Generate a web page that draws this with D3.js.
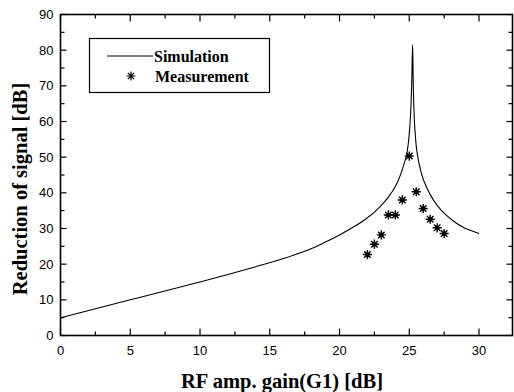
<!DOCTYPE html>
<html>
<head>
<meta charset="utf-8">
<script src="https://cdn.jsdelivr.net/npm/d3@7"></script>
<style>
  html, body { margin: 0; padding: 0; background: #fff; }
  svg { display: block; }
  .tick-label { font-family: Arial, "Liberation Sans", sans-serif; font-size: 13px; fill: #000; }
  .title { font-family: "Times New Roman", "Liberation Serif", serif; font-weight: bold; fill: #000; }
</style>
</head>
<body>
<svg id="chart" width="514" height="392"></svg>
<script>
// simulated curve
var simGain = [0, 5, 8.6, 10, 12, 14, 16, 17, 18, 19, 20, 21, 21.5, 22, 22.5, 23, 23.5, 24, 24.2, 24.4, 24.83, 25.07, 25.17, 25.24,
               25.28, 25.33, 25.4, 25.55, 25.8, 26, 26.5, 27, 27.5, 28, 28.5, 29, 29.5, 30];
var simReduction = [5, 10, 13.6, 15, 17.1, 19.3, 21.6, 22.9, 24.4, 26.2, 28.2, 30.4, 31.6, 33, 34.6, 36.5, 38.8, 41.8, 43.4, 45.4, 51.1, 60.4, 70, 81.5,
                    72, 64, 58, 51.5, 46.5, 43.8, 39.5, 36.5, 34.3, 32.6, 31.2, 30.1, 29.3, 28.6];

// measured points
var measGain = [22, 22.5, 23, 23.5, 24, 24.5, 25, 25.5, 26, 26.5, 27, 27.5];
var measReduction = [22.7, 25.6, 28.2, 33.8, 33.8, 38, 50.3, 40.3, 35.6, 32.6, 30.2, 28.6];

var xTicks = [0, 5, 10, 15, 20, 25, 30];
var yTicks = [0, 10, 20, 30, 40, 50, 60, 70, 80, 90];

var svg = d3.select("#chart");

var plotL = 60.5, plotR = 512.5, plotT = 14.5, plotB = 335.5;

var x = d3.scaleLinear().domain([0, 32.4]).range([plotL, plotR]);
var y = d3.scaleLinear().domain([0, 90]).range([plotB, plotT]);

// minor ticks every half step
var xMinor = d3.range(2.5, 32.4, 5);
var yMinor = d3.range(5, 90, 10);

var axes = svg.append("g").attr("class", "axes");

function inwardTicksX(g, vals, len) {
    vals.forEach(function(v) {
        g.append("line").attr("x1", x(v)).attr("x2", x(v)).attr("y1", plotB).attr("y2", plotB - len)
            .attr("stroke", "#000").attr("stroke-width", 1.2);
        g.append("line").attr("x1", x(v)).attr("x2", x(v)).attr("y1", plotT).attr("y2", plotT + len)
            .attr("stroke", "#000").attr("stroke-width", 1.2);
    });
}
function inwardTicksY(g, vals, len) {
    vals.forEach(function(v) {
        g.append("line").attr("y1", y(v)).attr("y2", y(v)).attr("x1", plotL).attr("x2", plotL + len)
            .attr("stroke", "#000").attr("stroke-width", 1.2);
        g.append("line").attr("y1", y(v)).attr("y2", y(v)).attr("x1", plotR).attr("x2", plotR - len)
            .attr("stroke", "#000").attr("stroke-width", 1.2);
    });
}
inwardTicksX(axes, xTicks, 7);
inwardTicksX(axes, xMinor, 4);
inwardTicksY(axes, yTicks, 6);
inwardTicksY(axes, yMinor, 4);

axes.append("rect")
    .attr("x", plotL).attr("y", plotT)
    .attr("width", plotR - plotL).attr("height", plotB - plotT)
    .attr("fill", "none").attr("stroke", "#000").attr("stroke-width", 1.6);

// tick labels
axes.selectAll("text.xl").data(xTicks).enter().append("text")
    .attr("class", "tick-label xl")
    .attr("x", function(d) { return x(d); })
    .attr("y", plotB + 19)
    .attr("text-anchor", "middle")
    .text(function(d) { return d; });

axes.selectAll("text.yl").data(yTicks).enter().append("text")
    .attr("class", "tick-label yl")
    .attr("x", plotL - 7)
    .attr("y", function(d) { return y(d); })
    .attr("dy", "0.35em")
    .attr("text-anchor", "end")
    .text(function(d) { return d; });

// axis titles
svg.append("text").attr("class", "title")
    .attr("x", 282).attr("y", 388)
    .attr("text-anchor", "middle")
    .style("font-size", "20.5px")
    .text("RF amp. gain(G1) [dB]");

svg.append("text").attr("class", "title")
    .attr("transform", "translate(27,189) rotate(-90)")
    .attr("text-anchor", "middle")
    .style("font-size", "20.5px")
    .text("Reduction of signal [dB]");

// simulation line
var simData = simGain.map(function(g, i) { return { g: g, r: simReduction[i] }; });
var line = d3.line()
    .x(function(d) { return x(d.g); })
    .y(function(d) { return y(d.r); })
    .curve(d3.curveCatmullRom.alpha(0.5));

svg.append("path")
    .datum(simData)
    .attr("d", line)
    .attr("fill", "none")
    .attr("stroke", "#000")
    .attr("stroke-width", 1.1);

// asterisk marker
function starPath(cx, cy, r) {
    var d = "";
    for (var k = 0; k < 4; k++) {
        var a = k * Math.PI / 4;
        var dx = r * Math.cos(a), dy = r * Math.sin(a);
        d += "M" + (cx - dx) + "," + (cy - dy) + "L" + (cx + dx) + "," + (cy + dy);
    }
    return d;
}

var measData = measGain.map(function(g, i) { return { g: g, r: measReduction[i] }; });
var marks = svg.append("g").attr("class", "marks");
marks.selectAll("path").data(measData).enter().append("path")
    .attr("d", function(d) { return starPath(x(d.g), y(d.r), 4.6); })
    .attr("stroke", "#000")
    .attr("stroke-width", 1.4)
    .attr("fill", "none");
marks.selectAll("circle").data(measData).enter().append("circle")
    .attr("cx", function(d) { return x(d.g); })
    .attr("cy", function(d) { return y(d.r); })
    .attr("r", 2.3)
    .attr("fill", "#000");

// legend
var legend = svg.append("g").attr("class", "legend");
legend.append("rect")
    .attr("x", 89.5).attr("y", 38.5).attr("width", 180).attr("height", 54)
    .attr("fill", "#fff").attr("stroke", "#000").attr("stroke-width", 1.2);
legend.append("line")
    .attr("x1", 107).attr("x2", 153).attr("y1", 56).attr("y2", 56)
    .attr("stroke", "#000").attr("stroke-width", 1.1);
legend.append("text").attr("class", "title")
    .attr("x", 154).attr("y", 61.5)
    .style("font-size", "16px")
    .text("Simulation");
legend.append("path")
    .attr("d", starPath(131, 76, 4.5))
    .attr("stroke", "#000").attr("stroke-width", 1.2);
legend.append("text").attr("class", "title")
    .attr("x", 155).attr("y", 82)
    .style("font-size", "16px")
    .text("Measurement");
</script>
</body>
</html>
